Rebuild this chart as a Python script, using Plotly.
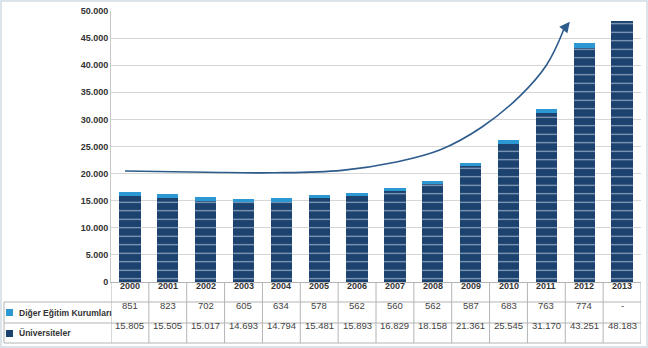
import plotly.graph_objects as go

years = ["2000", "2001", "2002", "2003", "2004", "2005", "2006",
         "2007", "2008", "2009", "2010", "2011", "2012", "2013"]
diger = [851, 823, 702, 605, 634, 578, 562, 560, 562, 587, 683, 763, 774, None]
universite = [15805, 15505, 15017, 14693, 14794, 15481, 15893,
              16829, 18158, 21361, 25545, 31170, 43251, 48183]
series_names = ["Diğer Eğitim Kurumları", "Üniversiteler"]

# decorative trend arrow (data coordinates: category index, value)
trend_x = [-0.13, 2.0, 3.8, 5.6, 7.0, 8.2, 9.3, 10.3, 11.0, 11.46]
trend_y = [20480, 20250, 20150, 20600, 22100, 24400, 28600, 34300, 40000, 46600]
trend_tip = (11.62, 48000)

y_ticks = list(range(0, 50001, 5000))

NAVY = "#1c426f"
LIGHT = "#2b98d4"
FONT = "Liberation Sans, Arial, sans-serif"

W, H = 648, 348
L, R, T, B = 111, 7, 11, 66
PW, PH = W - L - R, H - T - B


def px(xp):
    return (xp - L) / PW


def py(yp):
    return (H - B - yp) / PH


def fmt(v):
    if v is None:
        return "-"
    return f"{v:,}".replace(",", ".")


idx = list(range(len(years)))

fig = go.Figure()
fig.add_trace(go.Bar(
    x=idx, y=universite, name=series_names[1], width=0.56,
    marker=dict(color=NAVY, line=dict(width=0),
                pattern=dict(shape="-", fgcolor="#d6e6f5", fgopacity=0.65,
                             size=8.5, solidity=0.13)),
))
fig.add_trace(go.Bar(
    x=idx, y=[d if d is not None else 0 for d in diger], name=series_names[0],
    width=0.56, marker=dict(color=LIGHT, line=dict(width=0)),
))
fig.add_trace(go.Scatter(
    x=trend_x, y=trend_y, mode="lines",
    line=dict(color="#2d5b8c", width=1.6, shape="spline", smoothing=1.1),
    hoverinfo="skip",
))

shapes = []
annotations = []
LINE = "#b4b4b4"

# horizontal table lines
for yl in (302, 323, 343):
    shapes.append(dict(type="line", xref="paper", yref="paper",
                       x0=px(4), x1=px(641), y0=py(yl), y1=py(yl),
                       line=dict(color=LINE, width=1)))
# label column left border
shapes.append(dict(type="line", xref="paper", yref="paper",
                   x0=px(4), x1=px(4), y0=py(302), y1=py(343),
                   line=dict(color=LINE, width=1)))
# column separators
for k in range(len(years) + 1):
    xs = k - 0.5
    shapes.append(dict(type="line", xref="x", yref="paper",
                       x0=xs, x1=xs, y0=py(282), y1=py(343),
                       line=dict(color=LINE, width=1)))

# legend squares
shapes.append(dict(type="rect", xref="paper", yref="paper",
                   x0=px(6), x1=px(13), y0=py(316), y1=py(309),
                   fillcolor=LIGHT, line=dict(width=0)))
shapes.append(dict(type="rect", xref="paper", yref="paper",
                   x0=px(6), x1=px(13), y0=py(337), y1=py(330),
                   fillcolor=NAVY, line=dict(width=0)))

# outer frame of the picture
shapes.append(dict(type="rect", xref="paper", yref="paper",
                   x0=px(1), x1=px(647), y0=py(1), y1=py(347),
                   line=dict(color="#dce4eb", width=2), fillcolor="rgba(0,0,0,0)",
                   layer="below"))

# row labels
annotations.append(dict(xref="paper", yref="paper", x=px(17), y=py(312.5),
                        text="<b>" + series_names[0] + "</b>", showarrow=False,
                        xanchor="left", yanchor="middle", align="left", width=94,
                        font=dict(family=FONT, size=8.5, color="#333333")))
annotations.append(dict(xref="paper", yref="paper", x=px(17), y=py(333),
                        text="<b>" + series_names[1] + "</b>", showarrow=False,
                        xanchor="left", yanchor="middle", align="left",
                        font=dict(family=FONT, size=8.5, color="#333333")))

for i, yr in enumerate(years):
    annotations.append(dict(xref="x", yref="paper", x=i, y=py(292.5),
                            text="<b>" + yr + "</b>", showarrow=False,
                            font=dict(family=FONT, size=9, color="#333333")))
    annotations.append(dict(xref="x", yref="paper", x=i, y=py(312.5),
                            text=fmt(diger[i]), showarrow=False,
                            font=dict(family=FONT, size=9.5, color="#444444")))
    annotations.append(dict(xref="x", yref="paper", x=i, y=py(333),
                            text=fmt(universite[i]), showarrow=False,
                            font=dict(family=FONT, size=9.5, color="#444444")))

# arrow head of trend curve
annotations.append(dict(xref="x", yref="y", axref="x", ayref="y",
                        x=trend_tip[0], y=trend_tip[1],
                        ax=trend_x[-1], ay=trend_y[-1], text="",
                        showarrow=True, arrowhead=2, arrowsize=1.3,
                        arrowwidth=1.6, arrowcolor="#2d5b8c"))

fig.update_layout(
    width=W, height=H,
    margin=dict(l=L, r=R, t=T, b=B, pad=0),
    paper_bgcolor="white", plot_bgcolor="white",
    barmode="stack", showlegend=False,
    separators=",.",
    font=dict(family=FONT),
    shapes=shapes, annotations=annotations,
    xaxis=dict(range=[-0.5, 13.5], showticklabels=False, ticks="",
               showgrid=False, zeroline=False, showline=True,
               linecolor=LINE, linewidth=1, fixedrange=True),
    yaxis=dict(range=[0, 50000], tickvals=y_ticks, tickformat=",d",
               showgrid=True, gridcolor="#d6d6d6", gridwidth=1,
               zeroline=False, showline=True, linecolor="#c8c8c8",
               linewidth=1, ticks="",
               tickfont=dict(family=FONT, size=9, color="#333333", weight="bold"),
               fixedrange=True),
)

fig.write_html("out.html")
